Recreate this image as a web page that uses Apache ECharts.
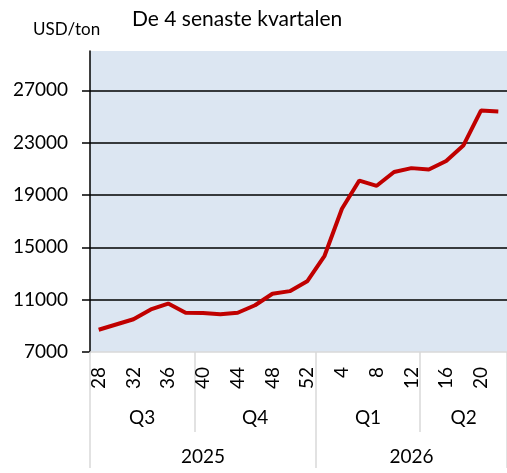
<!DOCTYPE html>
<html>
<head>
<meta charset="utf-8">
<script src="https://cdn.jsdelivr.net/npm/echarts@6/dist/echarts.min.js"></script>
<style>html,body{margin:0;padding:0;background:#fff}#c{width:507px;height:473px}</style>
</head>
<body>
<div id="c"></div>
<script>
// ---- data ----
const weeks = ['28','30','32','34','36','38','40','42','44','46','48','50','52','2','4','6','8','10','12','14','16','18','20','22'];
const prices = [8700,9100,9500,10250,10700,10000,9980,9880,10000,10570,11450,11650,12400,14350,17950,20100,19700,20750,21050,20950,21600,22800,25450,25380];
const weekTickLabels = ['28','32','36','40','44','48','52','4','8','12','16','20'];
const quarters = ['Q3','Q4','Q1','Q2'];
const quarterSizes = [6,7,6,5];
const years = ['2025','2026'];
const yearSizes = [13,11];
const yTicks = [7000,11000,15000,19000,23000,27000];
const yMin = 7000, yMax = 30000;
const title = 'De 4 senaste kvartalen';
const unit = 'USD/ton';

// ---- group helpers ----
function groups(sizes){
  const bounds=[0], centers=[]; let acc=0;
  sizes.forEach(s=>{centers.push(acc+s/2); acc+=s; bounds.push(acc);});
  return {bounds, centers};
}
const qg = groups(quarterSizes), yg = groups(yearSizes);
const FONT = 'Lato';
const GRAY = '#d9d9d9';

const chart = echarts.init(document.getElementById('c'), null, {renderer:'canvas'});
chart.setOption({
  animation:false,
  textStyle:{fontFamily:FONT},
  title:[
    {text:title, left:127, top:4, textStyle:{fontFamily:FONT, fontSize:21, fontWeight:'normal', color:'#000'}},
    {text:unit, left:28, top:16, textStyle:{fontFamily:FONT, fontSize:17, fontWeight:'normal', color:'#000'}}
  ],
  grid:{left:90, top:51, width:420, height:301, show:true, backgroundColor:'#DCE6F2', borderWidth:0, containLabel:false},
  xAxis:[
    {type:'category', data:weeks, boundaryGap:true, position:'bottom',
     axisLine:{show:true, lineStyle:{color:GRAY, width:1.5}},
     axisTick:{show:false},
     axisLabel:{rotate:90, margin:15, fontSize:19, color:'#000', fontFamily:FONT,
       interval:(i,v)=>weekTickLabels.includes(v)},
     splitLine:{show:false}},
    {type:'value', min:0, max:weeks.length, position:'bottom', offset:0,
     axisLine:{show:false}, splitLine:{show:false},
     axisTick:{show:true, customValues:qg.bounds, length:80, lineStyle:{color:GRAY, width:1.5}},
     axisLabel:{customValues:qg.centers, margin:56, fontSize:19, color:'#000', fontFamily:FONT,
       formatter:v=>{const i=qg.centers.indexOf(v); return i>=0?quarters[i]:'';}}},
    {type:'value', min:0, max:weeks.length, position:'bottom', offset:0,
     axisLine:{show:false}, splitLine:{show:false},
     axisTick:{show:true, customValues:yg.bounds, length:116, lineStyle:{color:GRAY, width:1.5}},
     axisLabel:{customValues:yg.centers, margin:95, fontSize:19, color:'#000', fontFamily:FONT,
       formatter:v=>{const i=yg.centers.indexOf(v); return i>=0?years[i]:'';}}}
  ],
  yAxis:{type:'value', min:yMin, max:yMax, interval:4000,
    axisLine:{show:true, lineStyle:{color:'#000', width:1.5}},
    axisTick:{show:true, inside:false, length:8, customValues:yTicks, lineStyle:{color:'#000', width:1.5}},
    axisLabel:{margin:22, fontSize:19, color:'#000', fontFamily:FONT, customValues:yTicks,
      formatter:v=>yTicks.includes(v)?String(v):''},
    splitLine:{show:true, lineStyle:{color:['rgba(0,0,0,0)','#000','#000','#000','#000','#000'], width:1.5}}
  },
  series:[{type:'line', xAxisIndex:0, data:prices, symbol:'none', smooth:false,
    lineStyle:{color:'#C00000', width:4}, z:5}]
});
</script>
</body>
</html>
